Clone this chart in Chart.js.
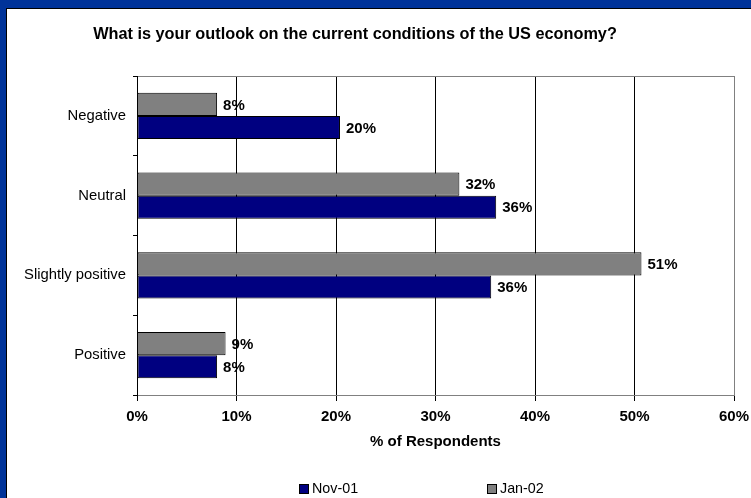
<!DOCTYPE html>
<html>
<head>
<meta charset="utf-8">
<script src="https://cdn.jsdelivr.net/npm/chart.js@4.4.1/dist/chart.umd.min.js"></script>
<style>
  html, body { margin: 0; padding: 0; background: #003399; overflow: hidden; }
  #frame {
    position: absolute; left: 6px; top: 8px;
    width: 745px; height: 490px;
    background: #fff; border: 1px solid #000; border-right: none; border-bottom: none;
  }
  canvas { display: block; }
</style>
</head>
<body>
<div id="frame"><canvas id="outlookChart" width="744" height="489"></canvas></div>
<script>
// survey answers, share of respondents in %
const categories = ['Negative', 'Neutral', 'Slightly positive', 'Positive'];
const nov01 = [20.4, 36.1, 35.6, 8.05];
const jan02 = [8.05, 32.4, 50.7, 8.9];
const xTickValues = [0, 10, 20, 30, 40, 50, 60];
const chartTitle = 'What is your outlook on the current conditions of the US economy?';
const axisTitle = '% of Respondents';

const FONT = '"Liberation Sans", Arial, Helvetica, sans-serif';
const NAVY = '#000080';
const GRAY = '#808080';

Chart.defaults.font.family = FONT;
Chart.defaults.color = '#000';

// heading drawn straight on the canvas so it can sit off-centre
const headingPlugin = {
  id: 'heading',
  afterDraw(chart) {
    const ctx = chart.ctx;
    ctx.save();
    ctx.font = 'bold 16.3px ' + FONT;
    ctx.fillStyle = '#000';
    ctx.textAlign = 'center';
    ctx.textBaseline = 'middle';
    ctx.fillText(chartTitle, 348, 26);
    ctx.restore();
  }
};

// percentage printed just past the end of every bar
const barValuesPlugin = {
  id: 'barValues',
  afterDatasetsDraw(chart) {
    const ctx = chart.ctx;
    ctx.save();
    ctx.font = 'bold 15px ' + FONT;
    ctx.fillStyle = '#000';
    ctx.textAlign = 'left';
    ctx.textBaseline = 'middle';
    chart.data.datasets.forEach((ds, i) => {
      chart.getDatasetMeta(i).data.forEach((bar, j) => {
        ctx.fillText(Math.round(ds.data[j]) + '%', bar.x + 6, bar.y + 1);
      });
    });
    ctx.restore();
  }
};

// wide-spaced legend along the bottom, Nov-01 first
const bottomLegendPlugin = {
  id: 'bottomLegend',
  afterDraw(chart) {
    const ctx = chart.ctx;
    const order = [1, 0];
    const startX = 292, gap = 188, cy = 480, box = 10;
    ctx.save();
    ctx.font = '14.3px ' + FONT;
    ctx.textBaseline = 'middle';
    ctx.textAlign = 'left';
    order.forEach((dsIndex, k) => {
      const ds = chart.data.datasets[dsIndex];
      const x = startX + k * gap;
      ctx.fillStyle = ds.backgroundColor;
      ctx.fillRect(x, cy - box / 2, box, box);
      ctx.strokeStyle = '#000';
      ctx.lineWidth = 1;
      ctx.strokeRect(x + 0.5, cy - box / 2 + 0.5, box - 1, box - 1);
      ctx.fillStyle = '#000';
      ctx.fillText(ds.label, x + box + 3, cy);
    });
    ctx.restore();
  }
};

new Chart(document.getElementById('outlookChart'), {
  type: 'bar',
  data: {
    labels: categories,
    datasets: [{
      label: 'Jan-02',
      data: jan02,
      backgroundColor: GRAY,
      borderColor: '#000',
      borderWidth: 1,
      borderSkipped: false
    }, {
      label: 'Nov-01',
      data: nov01,
      backgroundColor: NAVY,
      borderColor: '#000',
      borderWidth: 1,
      borderSkipped: false
    }]
  },
  options: {
    indexAxis: 'y',
    responsive: false,
    animation: false,
    datasets: {
      bar: { categoryPercentage: 0.577, barPercentage: 1 }
    },
    layout: {
      padding: { top: 67, right: 17, bottom: 43, left: 0 }
    },
    plugins: {
      legend: { display: false },
      title: { display: false },
      tooltip: { enabled: false }
    },
    scales: {
      x: {
        min: 0,
        max: 60,
        afterFit(scale) {
          scale.height = 60;
          // let the end labels hang into the layout padding
          scale.paddingLeft = 0;
          scale.paddingRight = 0;
        },
        afterBuildTicks(scale) {
          scale.ticks = xTickValues.map(v => ({ value: v }));
        },
        ticks: {
          padding: 7,
          font: { size: 15, weight: 'bold' },
          callback: v => v + '%'
        },
        grid: {
          color: ctx => ctx.index === xTickValues.length - 1 ? GRAY : '#000',
          tickColor: '#000',
          tickLength: 6,
          lineWidth: 1
        },
        border: { color: GRAY, width: 1 },
        title: {
          display: true,
          text: axisTitle,
          font: { size: 15, weight: 'bold' },
          padding: { top: 0, bottom: 4 }
        }
      },
      y: {
        afterFit(scale) { scale.width = 130; },
        ticks: {
          padding: 7,
          font: { size: 14.8 }
        },
        grid: {
          offset: true,
          color: ctx => ctx.index === 0 ? GRAY : 'rgba(0,0,0,0)',
          tickColor: '#000',
          tickLength: 4
        },
        border: { color: '#000', width: 1 }
      }
    }
  },
  plugins: [headingPlugin, barValuesPlugin, bottomLegendPlugin]
});
</script>
</body>
</html>
